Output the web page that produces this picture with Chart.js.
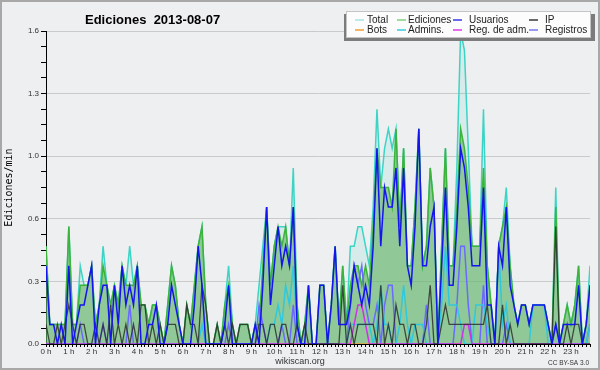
<!DOCTYPE html>
<html>
<head>
<meta charset="utf-8">
<script src="https://cdn.jsdelivr.net/npm/chart.js@4/dist/chart.umd.min.js"></script>
<style>
  html, body { margin: 0; padding: 0; background: #eeeff1; }
  canvas { display: block; }
</style>
</head>
<body>
<canvas id="chart" width="600" height="370"></canvas>
<script>
// edits per minute, one value per 10 minutes (144 slots), 2 hours per line
var hourLabels = ["0 h", "1 h", "2 h", "3 h", "4 h", "5 h", "6 h", "7 h", "8 h", "9 h", "10 h", "11 h",
  "12 h", "13 h", "14 h", "15 h", "16 h", "17 h", "18 h", "19 h", "20 h", "21 h", "22 h", "23 h"];

var total = [
  0.5,0.1,0.1,0.1,0.1,0.1, 0.6,0.1,0.1,0.4,0.3,0.3,
  0.4,0.1,0.2,0.5,0.3,0.2, 0.3,0.2,0.4,0.3,0.5,0.3,
  0.4,0.2,0.2,0.1,0.2,0.2, 0.1,0,0.2,0.4,0.3,0.1,
  0,0.2,0.1,0.3,0.5,0.6, 0.2,0,0,0.1,0,0.2,
  0.4,0.1,0,0.1,0.1,0.1, 0,0.1,0.3,0.5,0.7,0.3,
  0.5,0.6,0.6,0.6,0.4,0.9, 0.2,0,0.1,0.3,0,0,
  0.3,0.3,0,0.2,0.5,0.1, 0.4,0.1,0.5,0.5,0.6,0.6,
  0.5,0.4,0.7,1.2,0.8,1.0, 1.1,1.0,1.1,0.6,1.0,0.4,
  0.4,0.7,1.1,0.4,0.5,0.9, 0.7,0,0.5,1.0,0.4,0.4,
  0.9,1.6,1.5,1.0,0.5,0.5, 0.5,1.2,0.4,0.2,0,0.5,
  0.6,0.8,0.4,0.2,0.1,0.2, 0.2,0.1,0.2,0.2,0.2,0.2,
  0.1,0,0.8,0,0.1,0.2, 0.1,0.2,0.4,0,0.1,0.4
];
var ediciones = [
  0.5,0.1,0.1,0.1,0.1,0.1, 0.6,0.1,0.1,0.3,0.3,0.3,
  0.4,0.1,0.2,0.4,0.3,0.2, 0.3,0.2,0.4,0.3,0.3,0.3,
  0.4,0.2,0.2,0.1,0.2,0.2, 0.1,0,0.2,0.4,0.3,0.1,
  0,0.2,0.1,0.3,0.5,0.6, 0.2,0,0,0.1,0,0.2,
  0.3,0.1,0,0.1,0.1,0.1, 0,0.1,0.1,0.4,0.7,0.3,
  0.5,0.6,0.5,0.6,0.4,0.7, 0.2,0,0.1,0.3,0,0,
  0.3,0.3,0,0.2,0.5,0.1, 0.4,0.1,0.3,0.4,0.4,0.3,
  0.4,0.3,0.6,1.0,0.8,0.8, 0.8,0.7,1.1,0.6,1.0,0.4,
  0.4,0.7,1.1,0.4,0.5,0.9, 0.7,0,0.5,1.0,0.4,0.4,
  0.7,1.1,1.0,0.8,0.5,0.5, 0.5,0.9,0.4,0.2,0,0.5,
  0.6,0.7,0.4,0.2,0.1,0.2, 0.2,0.1,0.2,0.2,0.2,0.2,
  0.1,0,0.7,0,0.1,0.2, 0.1,0.2,0.4,0,0.1,0.3
];
var usuarios = [
  0.4,0.1,0.1,0,0.1,0, 0.4,0,0.1,0.2,0.2,0.3,
  0.4,0,0.2,0.3,0.3,0, 0.3,0.1,0.4,0.2,0.3,0.2,
  0.4,0,0,0.1,0.1,0.2, 0,0,0.1,0.3,0.2,0.1,
  0,0,0,0.2,0.5,0.3, 0,0,0,0,0,0.1,
  0.3,0,0,0,0,0, 0,0.1,0,0.3,0.7,0.2,
  0.4,0.6,0.4,0.5,0.4,0.7, 0.1,0,0,0.3,0,0,
  0.3,0.3,0,0.2,0.5,0.1, 0.1,0.1,0.2,0.4,0.3,0.2,
  0.3,0.2,0.5,1.0,0.5,0.8, 0.7,0.7,0.9,0.5,0.9,0.4,
  0.3,0.6,1.1,0.4,0.4,0.6, 0.7,0,0.4,0.8,0.3,0.3,
  0.6,1.0,0.9,0.7,0.4,0.4, 0.4,0.8,0.2,0.2,0,0.5,
  0.4,0.7,0.3,0.2,0.1,0.2, 0.2,0.1,0.2,0.2,0.2,0.2,
  0.1,0,0.1,0,0.1,0.1, 0.1,0.1,0.3,0,0.1,0.3
];
var ip = [
  0.1,0,0,0.1,0,0.1, 0.2,0.1,0,0.1,0.1,0,
  0,0.1,0,0.1,0,0.2, 0,0.1,0,0.1,0,0.1,
  0,0.2,0.2,0,0.1,0, 0.1,0,0.1,0.1,0.1,0,
  0,0.2,0.1,0.1,0,0.3, 0.2,0,0,0.1,0,0.1,
  0,0.1,0,0.1,0.1,0.1, 0,0,0.1,0.1,0,0.1,
  0.1,0,0.1,0.1,0,0, 0.1,0,0.1,0,0,0,
  0,0,0,0,0,0, 0.3,0,0.1,0,0.1,0.1,
  0.1,0.1,0.1,0,0.3,0, 0.1,0,0.2,0.1,0.1,0,
  0.1,0.1,0,0,0.1,0.3, 0,0,0.1,0.2,0.1,0.1,
  0.1,0.1,0.1,0.1,0.1,0.1, 0.1,0.1,0.2,0,0,0,
  0.2,0,0.1,0,0,0, 0,0,0,0,0,0,
  0,0,0.6,0,0,0.1, 0,0.1,0.1,0,0,0
];
var bots = [
  0,0,0,0,0,0, 0,0,0,0,0,0,
  0,0,0,0,0,0, 0,0,0,0,0,0,
  0,0,0,0,0,0, 0,0,0,0,0,0,
  0,0,0,0,0,0, 0,0,0,0,0,0,
  0,0,0,0,0,0, 0,0,0,0,0,0,
  0,0,0,0,0,0, 0,0,0,0,0,0,
  0,0,0,0,0,0, 0,0,0,0,0,0,
  0,0,0,0,0,0, 0,0,0,0,0,0,
  0,0,0,0,0,0, 0,0,0,0,0,0,
  0,0,0,0,0,0, 0,0,0,0,0,0,
  0,0,0,0,0,0, 0,0,0,0,0,0,
  0,0,0,0,0,0, 0,0,0,0,0,0
];
var admins = [
  0,0,0,0,0,0, 0,0,0,0,0,0,
  0,0,0,0,0,0, 0,0,0,0,0,0,
  0,0,0,0,0,0, 0,0,0,0,0,0,
  0,0,0,0,0,0.1, 0,0,0,0,0,0,
  0,0,0,0,0,0, 0,0,0,0,0,0.1,
  0.1,0.2,0.1,0.3,0.2,0.4, 0.1,0,0,0,0,0,
  0,0,0,0,0,0, 0,0,0.1,0.1,0.1,0.1,
  0.1,0.1,0,0.1,0.3,0.1, 0.1,0,0,0.1,0.3,0.1,
  0,0.1,0.1,0.1,0,0, 0,0,0.2,0.5,0.2,0.2,
  0.2,0.1,0,0,0,0.2, 0.2,0.2,0.1,0,0,0.5,
  0.1,0.2,0,0,0,0, 0,0,0.2,0.2,0.2,0.2,
  0,0,0,0,0,0, 0,0,0,0,0,0.1
];
var regAdm = [
  0,0,0,0,0,0, 0,0,0,0,0,0,
  0,0,0,0,0,0, 0,0,0,0,0,0,
  0,0,0,0,0,0, 0,0,0,0,0,0,
  0,0,0,0,0,0, 0,0,0,0,0,0,
  0,0,0,0,0,0, 0,0,0,0,0,0,
  0,0,0,0,0,0, 0,0,0,0,0,0,
  0,0,0,0,0,0, 0,0,0,0.1,0.2,0.2,
  0.1,0,0,0,0,0, 0,0,0,0,0,0,
  0,0,0,0,0,0, 0,0,0,0,0,0,
  0,0,0.1,0.1,0,0, 0,0,0,0,0,0,
  0,0,0,0,0,0, 0,0,0,0,0,0,
  0,0,0,0,0,0, 0,0,0,0,0,0
];
var registros = [
  0,0,0,0,0,0, 0,0,0,0.1,0,0,
  0,0,0,0.1,0,0, 0,0,0,0,0.2,0,
  0,0,0,0,0,0, 0,0,0,0,0,0,
  0,0,0,0,0,0, 0,0,0,0,0,0,
  0.1,0,0,0,0,0, 0,0,0.2,0.1,0,0,
  0,0,0.1,0,0,0.2, 0,0,0,0,0,0,
  0,0,0,0,0,0, 0,0,0.2,0.4,0.3,0.4,
  0.2,0.1,0.1,0.2,0,0.2, 0.3,0.3,0,0,0,0,
  0,0,0,0,0.2,0, 0,0,0,0,0,0,
  0.2,0.5,0.5,0.2,0,0, 0,0.3,0,0,0,0,
  0,0.1,0,0,0,0, 0,0,0,0,0,0,
  0,0,0.1,0,0,0, 0,0,0,0,0,0.1
];

var slots = [];
for (let i = 0; i < total.length; i++) slots.push(i);

var legendColors = ["#a4e6e0", "#80d080", "#3838e8", "#383838", "#f0a030", "#38c8e0", "#e038e8", "#7878f0"];

var frame = {
  id: "frame",
  beforeDraw: function (chart) {
    var c = chart.ctx;
    c.save();
    c.fillStyle = "#eeeff1";
    c.fillRect(0, 0, chart.width, chart.height);
    c.restore();
  },
  afterDraw: function (chart) {
    var c = chart.ctx;
    c.save();
    c.fillStyle = "#000";
    c.font = "bold 13px 'Liberation Sans'";
    c.textBaseline = "alphabetic";
    c.fillText("Ediciones  2013-08-07", 85, 24);

    // legend box with shadow
    c.fillStyle = "#7c7c7c";
    c.fillRect(344, 14, 251, 27);
    c.fillStyle = "#fcfcfc";
    c.fillRect(346, 11, 245, 27);
    c.strokeStyle = "#c4c4c4";
    c.lineWidth = 1;
    c.strokeRect(346.5, 11.5, 244, 26);

    var lineX = [355, 397, 453, 529];
    var textX = [367, 408, 469, 545];
    var rowY = [20, 30];
    c.font = "10px 'Liberation Sans'";
    c.textBaseline = "middle";
    chart.data.datasets.forEach(function (ds, k) {
      var col = k % 4, row = Math.floor(k / 4);
      c.strokeStyle = legendColors[k];
      c.lineWidth = 1.5;
      c.beginPath();
      c.moveTo(lineX[col], rowY[row]);
      c.lineTo(lineX[col] + 9, rowY[row]);
      c.stroke();
      c.fillStyle = "#222";
      c.fillText(ds.label, textX[col], rowY[row] + 0.5);
    });

    c.fillStyle = "#333";
    c.font = "9px 'Liberation Sans'";
    c.textAlign = "center";
    c.fillText("wikiscan.org", 300, 362);
    c.font = "6.5px 'Liberation Sans'";
    c.textAlign = "right";
    c.fillText("CC BY-SA 3.0", 589, 363);

    c.strokeStyle = "#a8a8a8";
    c.lineWidth = 2;
    c.strokeRect(1, 1, 598, 368);
    c.restore();
  }
};

function line(label, data, color, order, fillColor, width) {
  return {
    label: label,
    data: data,
    borderColor: color,
    backgroundColor: fillColor || color,
    fill: fillColor ? "origin" : false,
    borderWidth: width || 1.5,
    pointRadius: 0,
    tension: 0,
    order: order
  };
}

new Chart(document.getElementById("chart").getContext("2d"), {
  type: "line",
  data: {
    labels: slots,
    datasets: [
      line("Total", total, "#3cd4c4", 8, "rgba(60,210,196,0.13)"),
      line("Ediciones", ediciones, "#3cb43c", 7, "rgba(100,180,100,0.62)"),
      line("Usuarios", usuarios, "#1414ee", 1),
      line("IP", ip, "rgba(40,40,40,0.8)", 2, null, 1.3),
      line("Bots", bots, "#f0a030", 6),
      line("Admins.", admins, "#30c8dc", 4),
      line("Reg. de adm.", regAdm, "#d030e8", 3),
      line("Registros", registros, "#6a6aff", 5)
    ]
  },
  options: {
    responsive: false,
    animation: false,
    devicePixelRatio: 1,
    layout: { padding: { top: 31, right: 10, bottom: 0, left: 0 } },
    plugins: {
      legend: { display: false },
      tooltip: { enabled: false },
      title: { display: false }
    },
    scales: {
      x: {
        type: "linear",
        min: 0,
        max: 143,
        z: 1,
        afterBuildTicks: function (s) { s.ticks = slots.map(function (v) { return { value: v }; }); },
        afterFit: function (s) { s.height = 26; },
        grid: { drawOnChartArea: false, tickLength: 3, tickColor: "#000", tickWidth: 1 },
        border: { color: "#000", width: 1 },
        ticks: {
          autoSkip: false,
          maxRotation: 0,
          padding: 0,
          color: "#333",
          font: { family: "Liberation Sans", size: 8 },
          callback: function (v) { return v % 6 === 0 ? hourLabels[v / 6] : ""; }
        }
      },
      y: {
        min: 0,
        max: 1.6,
        afterBuildTicks: function (s) {
          var t = [];
          for (let k = 0; k <= 20; k++) t.push({ value: k * 0.08 });
          s.ticks = t;
        },
        afterFit: function (s) { s.width = 46; },
        grid: {
          color: function (ctx) { return ctx.index % 4 === 0 ? "#cacaca" : "rgba(0,0,0,0)"; },
          tickColor: "#000",
          tickLength: 5
        },
        border: { color: "#000", width: 1 },
        ticks: {
          autoSkip: false,
          padding: 2,
          color: "#333",
          font: { family: "Liberation Sans", size: 8 },
          callback: function (v, i) { return i % 4 === 0 ? v.toFixed(1) : ""; }
        },
        title: {
          display: true,
          text: "Ediciones/min",
          color: "#000",
          font: { family: "DejaVu Sans Mono", size: 10 },
          padding: { top: 3, bottom: 0 }
        }
      }
    }
  },
  plugins: [frame]
});
</script>
</body>
</html>
